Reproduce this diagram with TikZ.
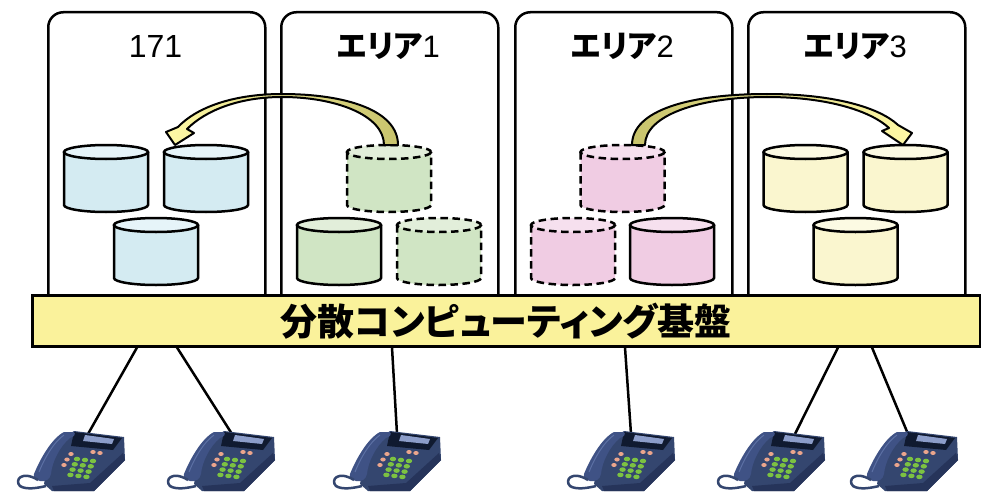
\documentclass[tikz,border=0pt]{standalone}
\usepackage{fontspec}
\setmainfont{Liberation Sans}
\newfontfamily\jpfont[RawFeature=+palt]{Noto Sans CJK JP}
\usetikzlibrary{calc}

\definecolor{barfill}{HTML}{FAF29B}
\definecolor{bluebody}{HTML}{D4EBF2}
\definecolor{bluetop}{HTML}{E6F4F9}
\definecolor{greenbody}{HTML}{D0E5C4}
\definecolor{greentop}{HTML}{E2EEDA}
\definecolor{pinkbody}{HTML}{F0CCE3}
\definecolor{pinktop}{HTML}{F6E0EE}
\definecolor{yelbody}{HTML}{FAF6CF}
\definecolor{yeltop}{HTML}{FCFAE3}
\definecolor{arrowlight}{HTML}{FFF9A6}
\definecolor{arrowolive}{HTML}{C8C36C}
\definecolor{phnavy}{HTML}{34466F}
\definecolor{phdeep}{HTML}{26345A}
\definecolor{phhand}{HTML}{3F5285}
\definecolor{phshine}{HTML}{5C70A4}
\definecolor{phpanel}{HTML}{101A30}
\definecolor{phscreen}{HTML}{8C9DC9}
\definecolor{keygreen}{HTML}{7CC242}
\definecolor{keypink}{HTML}{EBA58C}

\tikzset{
  panel/.style={draw, line width=2.5pt, rounded corners=15pt, inner sep=0pt,
    minimum width=217pt, minimum height=300pt, fill=white},
  busbar/.style={draw, line width=2.5pt, fill=barfill, inner sep=0pt,
    minimum width=948pt, minimum height=51pt},
  phonebox/.style={inner sep=0pt, minimum width=112pt, minimum height=68pt},
  cable/.style={line width=2.5pt},
  moverarrow/.style={draw, line width=2pt, line join=round},
  solidline/.style={line width=2.5pt},
  dashline/.style={line width=2.5pt, dash pattern=on 7.5pt off 4.5pt},
  % database cylinder, origin at top centre: #1 body, #2 lid, #3 outline style
  pics/storage/.style n args={3}{code={
    \path[fill=#1] (-42,7) -- (-42,60) .. controls (-42,63.87) and (-23.2,67) .. (0,67)
      .. controls (23.2,67) and (42,63.87) .. (42,60) -- (42,7) -- cycle;
    \path[fill=#2] (0,7) ellipse[x radius=42, y radius=7];
    \draw[#3] (-42,7) -- (-42,60) .. controls (-42,63.87) and (-23.2,67) .. (0,67)
      .. controls (23.2,67) and (42,63.87) .. (42,60) -- (42,7);
    \draw[#3] (0,7) ellipse[x radius=42, y radius=7];
  }},
  % desk telephone, origin at top left of its 112 x 68 box
  pics/deskphone/.style={code={
    \fill[phnavy] (30,60) -- (33,44) -- (46,17) -- (60,7) -- (110,13) -- (111,36)
      -- (80,67) -- (38,67) -- cycle;
    \fill[phdeep] (76,59) -- (109,29) -- (111,36) -- (80,67) -- (40,67) -- (38,62) -- cycle;
    \fill[phpanel] (60,8) -- (108,14) -- (99,26) -- (57,22) -- cycle;
    \fill[phscreen] (71,11) -- (100,15) -- (98,20) -- (69,17) -- cycle;
    \foreach \px/\py in {79/28, 86/29, 57/30, 53/35.5, 50/41}
      \fill[keypink] (\px,\py) ellipse[x radius=2.7, y radius=2];
    \foreach \i in {0,...,3}
      \foreach \j in {0,1,2}
        \fill[keygreen] ({63+8*\j-2.2*\i},{35+1*\j+5.3*\i}) ellipse[x radius=3.2, y radius=2.3];
    \fill[phhand] (20,50) .. controls (26,35) and (38,14) .. (50,8) -- (60,8)
      .. controls (62,10) and (60,13) .. (56,14) .. controls (46,22) and (38,38) .. (37,50)
      .. controls (36,55) and (32,58) .. (26,57) .. controls (22,56) and (19,54) .. (20,50) -- cycle;
    \draw[phshine, line width=1pt] (25,48) .. controls (31,33) and (40,18) .. (50,11);
    \draw[phnavy, line width=2.5pt] (24,56) .. controls (8,46) and (0,56) .. (6,62)
      .. controls (12,66) and (24,64) .. (32,62);
  }}
}

\begin{document}
\begin{tikzpicture}[x=1pt, y=-1pt]
\useasboundingbox[fill=white] (0,0) rectangle (981,492);

% area panels
\node[panel, anchor=north west] (p1) at (47,11) {};
\node[panel, anchor=north west] (p2) at (280,11) {};
\node[panel, anchor=north west] (p3) at (514,11) {};
\node[panel, anchor=north west] (p4) at (747,11) {};

% panel headings
\node[font=\fontsize{32}{36}\selectfont] (t1) at (155.5,46) {171};
\node[font=\fontsize{31}{36}\selectfont] (t2) at (388.5,46) {{\jpfont\bfseries エリア}1};
\node[font=\fontsize{31}{36}\selectfont] (t3) at (622.5,46) {{\jpfont\bfseries エリア}2};
\node[font=\fontsize{31}{36}\selectfont] (t4) at (855.5,46) {{\jpfont\bfseries エリア}3};

% storage in 171
\pic at (106,145) {storage={bluebody}{bluetop}{solidline}};
\pic at (206,145) {storage={bluebody}{bluetop}{solidline}};
\pic at (156,218) {storage={bluebody}{bluetop}{solidline}};
% storage in area 1
\pic at (389,145) {storage={greenbody}{greentop}{dashline}};
\pic at (339,218) {storage={greenbody}{greentop}{solidline}};
\pic at (439,218) {storage={greenbody}{greentop}{dashline}};
% storage in area 2
\pic at (622.5,145) {storage={pinkbody}{pinktop}{dashline}};
\pic at (573,218) {storage={pinkbody}{pinktop}{dashline}};
\pic at (672,218) {storage={pinkbody}{pinktop}{solidline}};
% storage in area 3
\pic at (805.5,145) {storage={yelbody}{yeltop}{solidline}};
\pic at (905.5,145) {storage={yelbody}{yeltop}{solidline}};
\pic at (855.5,218) {storage={yelbody}{yeltop}{solidline}};

% curved transfer arrows
\path[moverarrow, left color=arrowlight, right color=arrowolive]
  (398,145) .. controls (398,110) and (345,94) .. (282,94)
  .. controls (232,94) and (196,108) .. (178,127)
  -- (166,132) -- (175,145) -- (194,133) -- (187,129)
  .. controls (206,110) and (240,97) .. (282,97)
  .. controls (335,97) and (384,115) .. (384,145) -- cycle;
\path[moverarrow, left color=arrowolive, right color=arrowlight]
  (632,145) .. controls (632,110) and (690,94) .. (767,94)
  .. controls (835,94) and (880,108) .. (898,125)
  -- (912,133) -- (903,145) -- (882,131) -- (889,128)
  .. controls (872,112) and (830,97) .. (767,97)
  .. controls (700,97) and (645,115) .. (645,145) -- cycle;

% platform bar
\node[busbar, anchor=north west, font=\jpfont\bfseries\fontsize{37}{42}\selectfont]
  (bar) at (31,294) {分散コンピューティング基盤};

% telephones
\node[phonebox, anchor=north west] (tel1) at (14,424) {};
\node[phonebox, anchor=north west] (tel2) at (164,424) {};
\node[phonebox, anchor=north west] (tel3) at (330,424) {};
\node[phonebox, anchor=north west] (tel4) at (564,424) {};
\node[phonebox, anchor=north west] (tel5) at (714,424) {};
\node[phonebox, anchor=north west] (tel6) at (847,424) {};

\draw[cable] ($(bar.south west)+(106,0)$) -- ($(tel1.north west)+(74,10)$);
\draw[cable] ($(bar.south west)+(146,0)$) -- ($(tel2.north west)+(68,10)$);
\draw[cable] ($(bar.south west)+(361,0)$) -- ($(tel3.north west)+(67,10)$);
\draw[cable] ($(bar.south west)+(594,0)$) -- ($(tel4.north west)+(67,10)$);
\draw[cable] ($(bar.south west)+(807,0)$) -- ($(tel5.north west)+(81,10)$);
\draw[cable] ($(bar.south west)+(841,0)$) -- ($(tel6.north west)+(61,10)$);

\pic at (tel1.north west) {deskphone};
\pic at (tel2.north west) {deskphone};
\pic at (tel3.north west) {deskphone};
\pic at (tel4.north west) {deskphone};
\pic at (tel5.north west) {deskphone};
\pic at (tel6.north west) {deskphone};
\end{tikzpicture}
\end{document}
